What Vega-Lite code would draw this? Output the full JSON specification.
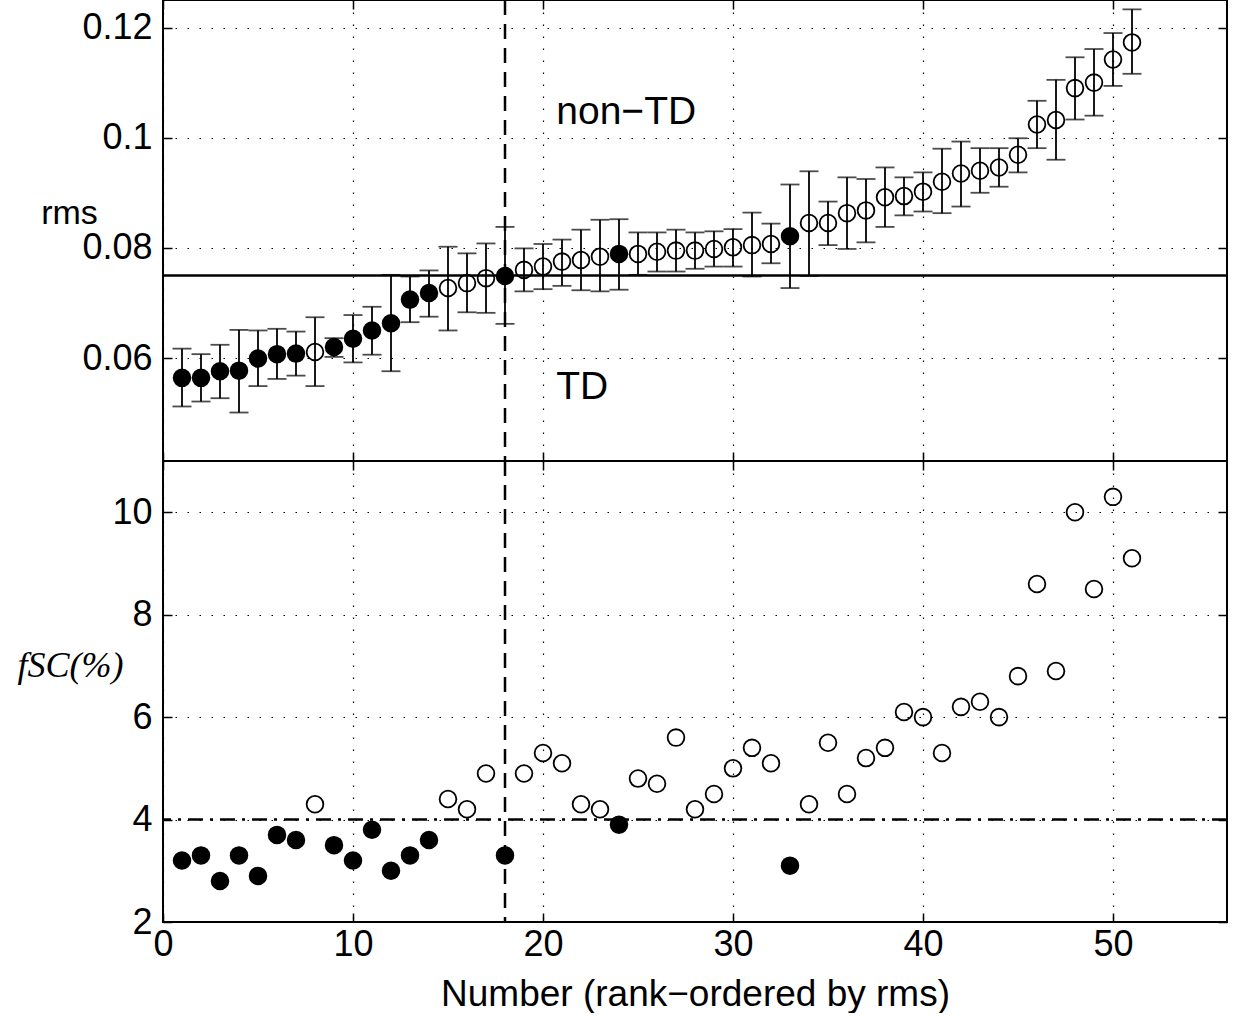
{
  "$schema": "https://vega.github.io/schema/vega-lite/v6.json",
  "background": "white",
  "padding": {"left": 16, "top": -3, "right": 0, "bottom": 0},
  "autosize": {"type": "pad"},
  "spacing": 0,
  "bounds": "flush",
  "datasets": {
    "pts": [
      {"n": 1, "rms": 0.0564, "lo": 0.0512, "hi": 0.0617, "fsc": 3.2, "td": "y"},
      {"n": 2, "rms": 0.0564, "lo": 0.0521, "hi": 0.0607, "fsc": 3.3, "td": "y"},
      {"n": 3, "rms": 0.0576, "lo": 0.0527, "hi": 0.0624, "fsc": 2.8, "td": "y"},
      {"n": 4, "rms": 0.0577, "lo": 0.0501, "hi": 0.0651, "fsc": 3.3, "td": "y"},
      {"n": 5, "rms": 0.0599, "lo": 0.0549, "hi": 0.0650, "fsc": 2.9, "td": "y"},
      {"n": 6, "rms": 0.0607, "lo": 0.0562, "hi": 0.0653, "fsc": 3.7, "td": "y"},
      {"n": 7, "rms": 0.0608, "lo": 0.0568, "hi": 0.0648, "fsc": 3.6, "td": "y"},
      {"n": 8, "rms": 0.0611, "lo": 0.0549, "hi": 0.0674, "fsc": 4.3, "td": "n"},
      {"n": 9, "rms": 0.0620, "lo": 0.0602, "hi": 0.0636, "fsc": 3.5, "td": "y"},
      {"n": 10, "rms": 0.0635, "lo": 0.0592, "hi": 0.0678, "fsc": 3.2, "td": "y"},
      {"n": 11, "rms": 0.0650, "lo": 0.0606, "hi": 0.0693, "fsc": 3.8, "td": "y"},
      {"n": 12, "rms": 0.0663, "lo": 0.0576, "hi": 0.0751, "fsc": 3.0, "td": "y"},
      {"n": 13, "rms": 0.0706, "lo": 0.0665, "hi": 0.0748, "fsc": 3.3, "td": "y"},
      {"n": 14, "rms": 0.0718, "lo": 0.0675, "hi": 0.0759, "fsc": 3.6, "td": "y"},
      {"n": 15, "rms": 0.0727, "lo": 0.0650, "hi": 0.0802, "fsc": 4.4, "td": "n"},
      {"n": 16, "rms": 0.0736, "lo": 0.0683, "hi": 0.0790, "fsc": 4.2, "td": "n"},
      {"n": 17, "rms": 0.0745, "lo": 0.0682, "hi": 0.0808, "fsc": 4.9, "td": "n"},
      {"n": 18, "rms": 0.0749, "lo": 0.0662, "hi": 0.0838, "fsc": 3.3, "td": "y"},
      {"n": 19, "rms": 0.0760, "lo": 0.0721, "hi": 0.0799, "fsc": 4.9, "td": "n"},
      {"n": 20, "rms": 0.0766, "lo": 0.0725, "hi": 0.0807, "fsc": 5.3, "td": "n"},
      {"n": 21, "rms": 0.0775, "lo": 0.0731, "hi": 0.0815, "fsc": 5.1, "td": "n"},
      {"n": 22, "rms": 0.0778, "lo": 0.0723, "hi": 0.0833, "fsc": 4.3, "td": "n"},
      {"n": 23, "rms": 0.0784, "lo": 0.0721, "hi": 0.0851, "fsc": 4.2, "td": "n"},
      {"n": 24, "rms": 0.0789, "lo": 0.0724, "hi": 0.0852, "fsc": 3.9, "td": "y"},
      {"n": 25, "rms": 0.0789, "lo": 0.0751, "hi": 0.0828, "fsc": 4.8, "td": "n"},
      {"n": 26, "rms": 0.0793, "lo": 0.0757, "hi": 0.0828, "fsc": 4.7, "td": "n"},
      {"n": 27, "rms": 0.0795, "lo": 0.0757, "hi": 0.0833, "fsc": 5.6, "td": "n"},
      {"n": 28, "rms": 0.0795, "lo": 0.0762, "hi": 0.0828, "fsc": 4.2, "td": "n"},
      {"n": 29, "rms": 0.0798, "lo": 0.0766, "hi": 0.0830, "fsc": 4.5, "td": "n"},
      {"n": 30, "rms": 0.0801, "lo": 0.0766, "hi": 0.0834, "fsc": 5.0, "td": "n"},
      {"n": 31, "rms": 0.0805, "lo": 0.0748, "hi": 0.0864, "fsc": 5.4, "td": "n"},
      {"n": 32, "rms": 0.0807, "lo": 0.0772, "hi": 0.0844, "fsc": 5.1, "td": "n"},
      {"n": 33, "rms": 0.0821, "lo": 0.0727, "hi": 0.0915, "fsc": 3.1, "td": "y"},
      {"n": 34, "rms": 0.0845, "lo": 0.0749, "hi": 0.0939, "fsc": 4.3, "td": "n"},
      {"n": 35, "rms": 0.0845, "lo": 0.0805, "hi": 0.0884, "fsc": 5.5, "td": "n"},
      {"n": 36, "rms": 0.0863, "lo": 0.0798, "hi": 0.0928, "fsc": 4.5, "td": "n"},
      {"n": 37, "rms": 0.0868, "lo": 0.0810, "hi": 0.0925, "fsc": 5.2, "td": "n"},
      {"n": 38, "rms": 0.0892, "lo": 0.0838, "hi": 0.0946, "fsc": 5.4, "td": "n"},
      {"n": 39, "rms": 0.0894, "lo": 0.0859, "hi": 0.0928, "fsc": 6.1, "td": "n"},
      {"n": 40, "rms": 0.0902, "lo": 0.0866, "hi": 0.0937, "fsc": 6.0, "td": "n"},
      {"n": 41, "rms": 0.0920, "lo": 0.0863, "hi": 0.0980, "fsc": 5.3, "td": "n"},
      {"n": 42, "rms": 0.0935, "lo": 0.0875, "hi": 0.0993, "fsc": 6.2, "td": "n"},
      {"n": 43, "rms": 0.0940, "lo": 0.0900, "hi": 0.0981, "fsc": 6.3, "td": "n"},
      {"n": 44, "rms": 0.0946, "lo": 0.0911, "hi": 0.0981, "fsc": 6.0, "td": "n"},
      {"n": 45, "rms": 0.0969, "lo": 0.0937, "hi": 0.0999, "fsc": 6.8, "td": "n"},
      {"n": 46, "rms": 0.1024, "lo": 0.0981, "hi": 0.1067, "fsc": 8.6, "td": "n"},
      {"n": 47, "rms": 0.1032, "lo": 0.0960, "hi": 0.1105, "fsc": 6.9, "td": "n"},
      {"n": 48, "rms": 0.1090, "lo": 0.1033, "hi": 0.1146, "fsc": 10.0, "td": "n"},
      {"n": 49, "rms": 0.1100, "lo": 0.1040, "hi": 0.1161, "fsc": 8.5, "td": "n"},
      {"n": 50, "rms": 0.1142, "lo": 0.1094, "hi": 0.1190, "fsc": 10.3, "td": "n"},
      {"n": 51, "rms": 0.1173, "lo": 0.1116, "hi": 0.1233, "fsc": 9.1, "td": "n"}
    ],
    "ann": [
      {"x": 20.7, "y": 0.1047, "t": "non−TD"},
      {"x": 20.7, "y": 0.0548, "t": "TD"}
    ]
  },
  "vconcat": [
    {
      "width": 1064,
      "height": 461,
      "resolve": {"axis": {"x": "independent", "y": "independent"}},
      "layer": [
        {
          "data": {"name": "pts"},
          "mark": {"type": "errorbar", "ticks": {"size": 19, "thickness": 1.8, "color": "black"}, "rule": {"strokeWidth": 1.8, "color": "black"}},
          "encoding": {
            "x": {"field": "n", "type": "quantitative", "scale": {"domain": [0, 56], "nice": false, "zero": false},
                  "axis": {"orient": "bottom", "values": [0, 10, 20, 30, 40, 50], "labels": false, "title": null, "grid": true}},
            "y": {"field": "lo", "type": "quantitative", "scale": {"domain": [0.0413, 0.125], "nice": false, "zero": false},
                  "axis": {"orient": "left", "values": [0.06, 0.08, 0.1, 0.12], "format": ".2~f", "grid": true,
                           "title": "rms", "titleAngle": 0, "titleX": -94, "titleY": 213, "titleAlign": "center", "titleBaseline": "middle", "titleFontSize": 34}},
            "y2": {"field": "hi"}
          }
        },
        {
          "data": {"name": "pts"},
          "mark": {"type": "point", "shape": "circle", "filled": true, "size": 280, "strokeWidth": 1.8, "stroke": "black", "opacity": 1},
          "encoding": {
            "x": {"field": "n", "type": "quantitative", "scale": {"domain": [0, 56], "nice": false, "zero": false},
                  "axis": {"orient": "top", "values": [0, 10, 20, 30, 40, 50], "labels": false, "title": null, "grid": false}},
            "y": {"field": "rms", "type": "quantitative", "scale": {"domain": [0.0413, 0.125], "nice": false, "zero": false},
                  "axis": {"orient": "right", "values": [0.06, 0.08, 0.1, 0.12], "labels": false, "title": null, "grid": false}},
            "fill": {"field": "td", "type": "nominal", "scale": {"domain": ["y", "n"], "range": ["black", "transparent"]}, "legend": null}
          }
        },
        {
          "data": {"values": [{"v": 0.075}]},
          "mark": {"type": "rule", "strokeWidth": 2.5, "color": "black"},
          "encoding": {
            "y": {"field": "v", "type": "quantitative", "scale": {"domain": [0.0413, 0.125], "nice": false, "zero": false}, "axis": null}
          }
        },
        {
          "data": {"values": [{"v": 18}]},
          "mark": {"type": "rule", "strokeWidth": 2.5, "color": "black", "strokeDash": [15, 9]},
          "encoding": {
            "x": {"field": "v", "type": "quantitative", "scale": {"domain": [0, 56], "nice": false, "zero": false}, "axis": null}
          }
        },
        {
          "data": {"name": "ann"},
          "mark": {"type": "text", "align": "left", "baseline": "middle", "font": "Liberation Sans", "fontSize": 39, "color": "black"},
          "encoding": {
            "x": {"field": "x", "type": "quantitative", "scale": {"domain": [0, 56], "nice": false, "zero": false}, "axis": null},
            "y": {"field": "y", "type": "quantitative", "scale": {"domain": [0.0413, 0.125], "nice": false, "zero": false}, "axis": null},
            "text": {"field": "t"}
          }
        }
      ]
    },
    {
      "width": 1064,
      "height": 461,
      "resolve": {"axis": {"x": "independent", "y": "independent"}},
      "layer": [
        {
          "data": {"name": "pts"},
          "mark": {"type": "point", "shape": "circle", "filled": true, "size": 280, "strokeWidth": 1.8, "stroke": "black", "opacity": 1},
          "encoding": {
            "x": {"field": "n", "type": "quantitative", "scale": {"domain": [0, 56], "nice": false, "zero": false},
                  "axis": {"orient": "bottom", "values": [0, 10, 20, 30, 40, 50], "grid": true, "title": "Number (rank−ordered by rms)", "titleFontSize": 37, "labelPadding": 14, "titlePadding": 14}},
            "y": {"field": "fsc", "type": "quantitative", "scale": {"domain": [2, 11], "nice": false, "zero": false},
                  "axis": {"orient": "left", "values": [2, 4, 6, 8, 10], "grid": true,
                           "title": "fSC(%)", "titleFont": "Liberation Serif", "titleFontStyle": "italic", "titleFontSize": 36,
                           "titleAngle": 0, "titleX": -93, "titleY": 204, "titleAlign": "center", "titleBaseline": "middle"}},
            "fill": {"field": "td", "type": "nominal", "scale": {"domain": ["y", "n"], "range": ["black", "transparent"]}, "legend": null}
          }
        },
        {
          "data": {"values": [{"v": 4}]},
          "mark": {"type": "rule", "strokeWidth": 2.5, "color": "black", "strokeDash": [15, 7, 3, 7]},
          "encoding": {
            "y": {"field": "v", "type": "quantitative", "scale": {"domain": [2, 11], "nice": false, "zero": false},
                  "axis": {"orient": "right", "values": [2, 4, 6, 8, 10], "labels": false, "title": null, "grid": false}}
          }
        },
        {
          "data": {"values": [{"v": 18}]},
          "mark": {"type": "rule", "strokeWidth": 2.5, "color": "black", "strokeDash": [15, 9]},
          "encoding": {
            "x": {"field": "v", "type": "quantitative", "scale": {"domain": [0, 56], "nice": false, "zero": false},
                  "axis": {"orient": "top", "values": [0, 10, 20, 30, 40, 50], "labels": false, "title": null, "grid": false}}
          }
        }
      ]
    }
  ],
  "config": {
    "view": {"stroke": "black", "strokeWidth": 2},
    "axis": {
      "domain": false,
      "tickColor": "black",
      "tickWidth": 1.5,
      "tickSize": -9,
      "labelFont": "Liberation Sans",
      "labelFontSize": 36,
      "labelColor": "black",
      "labelPadding": 20,
      "labelFlush": false,
      "labelOverlap": false,
      "gridColor": "#000000",
      "gridDash": [1.5, 10.5],
      "gridWidth": 1.2,
      "titleFont": "Liberation Sans",
      "titleFontWeight": "normal",
      "titleColor": "black"
    }
  }
}
